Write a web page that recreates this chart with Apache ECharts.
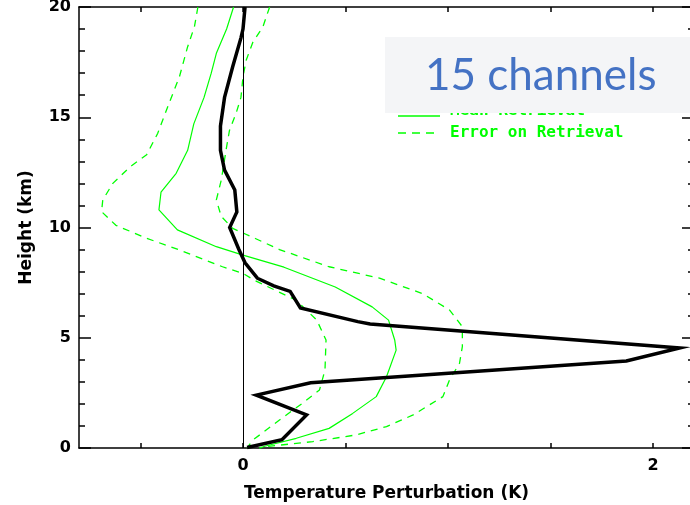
<!DOCTYPE html>
<html><head><meta charset="utf-8">
<script src="https://cdn.jsdelivr.net/npm/echarts@6/dist/echarts.min.js"></script>
<style>html,body{margin:0;padding:0;background:#fff}#c{width:690px;height:505px}</style>
</head><body><div id="c"></div>
<script>
// ---- data (height in km, temperature perturbation in K) ----
const xTickValues = [-0.5, 0, 0.5, 1, 1.5, 2];
const xLabelValues = [0, 2];
const yTickLabels = [0, 5, 10, 15, 20];

const truthH = [20, 19, 18.6, 17.3, 15.9, 14.6, 13.5, 12.6, 11.7, 10.7, 10.0, 9.0, 8.4, 7.7, 7.35, 7.1, 6.35, 5.73, 5.62, 4.54, 3.95, 2.96, 2.4, 1.5, 0.38, 0.02];
const truthX = [0.01, 0.0, -0.01, -0.05, -0.09, -0.11, -0.11, -0.09, -0.04, -0.03, -0.065, -0.02, 0.01, 0.07, 0.15, 0.23, 0.28, 0.56, 0.62, 2.13, 1.87, 0.33, 0.065, 0.31, 0.19, 0.02];

const retH = [20, 19, 17.9, 17.0, 15.9, 14.7, 13.5, 12.46, 11.6, 10.8, 9.89, 9.13, 8.75, 8.2, 7.3, 6.4, 5.8, 4.9, 4.44, 3.23, 2.33, 1.57, 0.89, 0.44, 0.09, 0];
const retX = [-0.046, -0.08, -0.13, -0.155, -0.19, -0.24, -0.27, -0.326, -0.40, -0.41, -0.32, -0.13, 0.0, 0.2, 0.45, 0.63, 0.71, 0.74, 0.747, 0.70, 0.65, 0.535, 0.42, 0.26, 0.11, 0.08];

const errLoH = [20, 19.1, 18.2, 16.84, 15.48, 14.27, 13.3, 12.76, 12.0, 11.25, 10.72, 10.1, 9.51, 8.98, 8.22, 7.92, 7.6, 6.7, 5.8, 4.9, 3.54, 2.63, 2.03, 1.27, 0.36, 0];
const errLoX = [-0.22, -0.237, -0.27, -0.31, -0.367, -0.416, -0.47, -0.55, -0.635, -0.684, -0.69, -0.62, -0.47, -0.31, -0.1, 0.0, 0.056, 0.26, 0.36, 0.405, 0.40, 0.373, 0.29, 0.178, 0.048, 0.02];

const errHiH = [20, 19.1, 18.4, 17.6, 16.84, 15.9, 15.2, 14.4, 13.66, 12.15, 11.25, 10.5, 9.96, 9.5, 9.0, 8.22, 7.7, 7.0, 6.26, 5.5, 4.6, 3.84, 3.08, 2.33, 1.5, 0.97, 0.59, 0.29, 0.06, 0];
const errHiX = [0.13, 0.097, 0.048, 0.016, 0.0, -0.01, -0.033, -0.066, -0.08, -0.106, -0.13, -0.106, -0.05, 0.06, 0.178, 0.42, 0.666, 0.877, 1.007, 1.07, 1.07, 1.056, 1.007, 0.975, 0.83, 0.70, 0.55, 0.34, 0.11, 0.08];

const legendNames = ['Mean Retrieval', 'Error on Retrieval'];
const overlayText = '15 channels';

// ---- build ----
const zip = (xs, hs) => xs.map((x, i) => [x, hs[i]]);
const GREEN = '#00ff00';
const labelFont = {fontFamily: 'DejaVu Sans', fontWeight: 'bold', fontSize: 16, color: '#000'};

function xAx(pos, showLabel) {
  return {
    type: 'value', position: pos, min: -0.8, max: 2.2,
    axisLine: {show: true, onZero: false, lineStyle: {color: '#000', width: 1.5}},
    axisTick: {show: true, inside: true, length: 5, customValues: xTickValues, lineStyle: {color: '#000', width: 1.5}},
    axisLabel: Object.assign({show: showLabel, customValues: xLabelValues, margin: 10}, labelFont),
    splitLine: {show: false},
    name: showLabel ? 'Temperature Perturbation (K)' : '',
    nameLocation: 'middle', nameGap: 37,
    nameTextStyle: {fontFamily: 'DejaVu Sans', fontWeight: 'bold', fontSize: 17, color: '#000'}
  };
}
function yAx(pos, showLabel) {
  return {
    type: 'value', position: pos, min: 0, max: 20, interval: 5,
    axisLine: {show: true, onZero: false, lineStyle: {color: '#000', width: 1.5}},
    axisTick: {show: true, inside: true, length: 12, lineStyle: {color: '#000', width: 1.5}},
    minorTick: {show: true, splitNumber: 5, length: 6, lineStyle: {color: '#000', width: 1.5}},
    axisLabel: Object.assign({show: showLabel, margin: 8}, labelFont),
    splitLine: {show: false},
    name: showLabel ? 'Height (km)' : '',
    nameLocation: 'middle', nameGap: 44, nameRotate: 90,
    nameTextStyle: {fontFamily: 'DejaVu Sans', fontWeight: 'bold', fontSize: 17, color: '#000'}
  };
}

const chart = echarts.init(document.getElementById('c'), null, {renderer: 'canvas'});
chart.setOption({
  backgroundColor: '#fff',
  animation: false,
  grid: {left: 79, top: 7, width: 615, height: 441, outerBoundsMode: 'none'},
  xAxis: [xAx('bottom', true), xAx('top', false)],
  yAxis: [yAx('left', true), yAx('right', false)],
  series: [
    {type: 'line', name: 'errLo', data: zip(errLoX, errLoH), showSymbol: false, symbol: 'none',
     lineStyle: {color: GREEN, width: 1.3, type: [7, 6]},
     markLine: {silent: true, symbol: 'none', label: {show: false},
       lineStyle: {color: '#000', width: 1, type: 'solid'}, data: [{xAxis: 0}]}},
    {type: 'line', name: 'errHi', data: zip(errHiX, errHiH), symbol: 'none',
     lineStyle: {color: GREEN, width: 1.3, type: [7, 6]}},
    {type: 'line', name: 'ret', data: zip(retX, retH), symbol: 'none',
     lineStyle: {color: GREEN, width: 1.2}},
    {type: 'line', name: 'truth', data: zip(truthX, truthH), symbol: 'none',
     lineStyle: {color: '#000', width: 3.5, join: 'miter'}}
  ],
  graphic: [
    {type: 'line', shape: {x1: 398, y1: 116, x2: 440, y2: 116}, style: {stroke: GREEN, lineWidth: 1.3}, z: 10},
    {type: 'text', x: 450, y: 111, style: {text: legendNames[0], fill: GREEN, font: 'bold 16px "DejaVu Sans Mono"', verticalAlign: 'middle'}, z: 10},
    {type: 'line', shape: {x1: 398, y1: 133, x2: 440, y2: 133}, style: {stroke: GREEN, lineWidth: 1.3, lineDash: [8, 6]}, z: 10},
    {type: 'text', x: 450, y: 133, style: {text: legendNames[1], fill: GREEN, font: 'bold 16px "DejaVu Sans Mono"', verticalAlign: 'middle'}, z: 10},
    {type: 'rect', shape: {x: 385, y: 37, width: 310, height: 76}, style: {fill: '#f4f5f7'}, z: 20},
    {type: 'text', x: 425, y: 76, style: {text: overlayText, fill: '#4472c4', font: '44px Lato', verticalAlign: 'middle'}, z: 21}
  ]
});
</script>
</body></html>
